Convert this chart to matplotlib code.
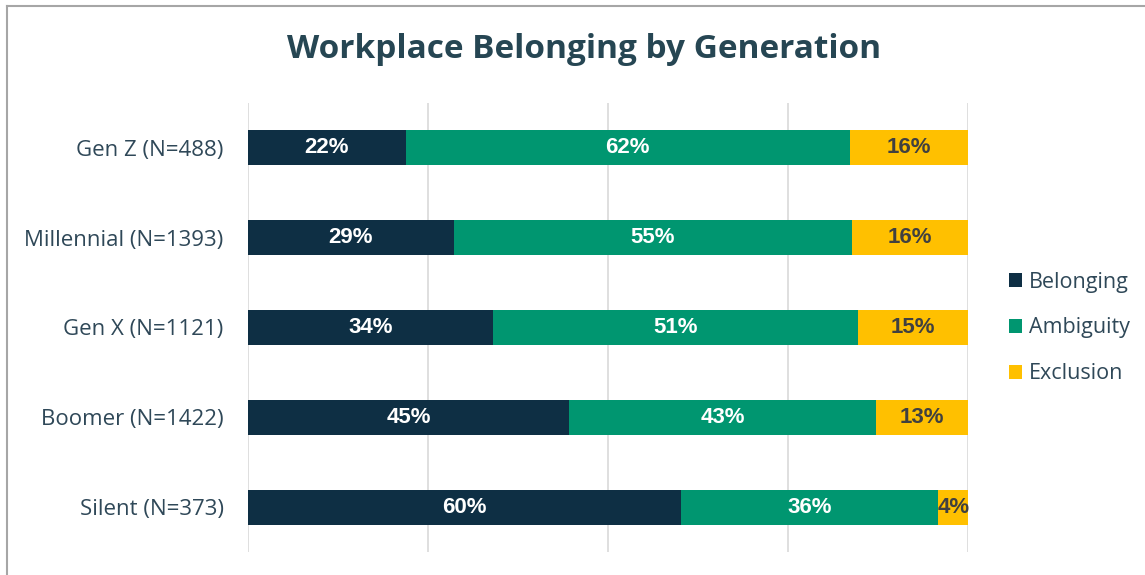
import matplotlib
matplotlib.use("Agg")
import matplotlib.pyplot as plt
from matplotlib.patches import Patch
from matplotlib.lines import Line2D
import numpy as np

generations = ['Gen Z (N=488)', 'Millennial (N=1393)', 'Gen X (N=1121)',
               'Boomer (N=1422)', 'Silent (N=373)']
belonging = [21.9, 28.6, 34.0, 44.6, 60.1]
ambiguity = [61.7, 55.3, 50.7, 42.6, 35.8]
exclusion = [16.4, 16.1, 15.3, 12.8, 4.1]

series = ['Belonging', 'Ambiguity', 'Exclusion']
colors = ['#0E2F44', '#009670', '#FFC000']
label_colors = ['white', 'white', '#404040']
text_color = '#2F4858'

fig = plt.figure(figsize=(11.45, 5.75), dpi=100)
ax = fig.add_axes([248/1145, 1 - 552/575, 720/1145, 449/575])

y = np.arange(len(generations))
left = np.zeros(len(generations))
for name, vals, col, lcol in zip(series, [belonging, ambiguity, exclusion], colors, label_colors):
    vals = np.array(vals)
    ax.barh(y, vals, left=left, height=0.39, color=col, label=name, zorder=2)
    for yi, l, v in zip(y, left, vals):
        ax.text(l + v / 2, yi, '{:.0f}%'.format(v), ha='center', va='center',
                color=lcol, fontsize=16, fontweight='bold',
                family='Liberation Sans', zorder=3)
    left = left + vals

ax.set_xlim(0, 100)
ax.set_ylim(len(generations) - 0.5, -0.5)
ax.set_xticks([0, 25, 50, 75, 100])
ax.xaxis.grid(True, color='#D9D9D9', linewidth=1.2, zorder=0)
ax.set_axisbelow(True)
ax.tick_params(axis='x', bottom=False, labelbottom=False)
ax.tick_params(axis='y', left=False, pad=14)
ax.set_yticks(y)
ax.set_yticklabels(generations, fontsize=16, color=text_color, family='Open Sans')
for s in ax.spines.values():
    s.set_visible(False)

fig.text(584/1145, 1 - 50/575, 'Workplace Belonging by Generation', ha='center', va='center',
         fontsize=24, fontweight='bold', color='#264653', family='Open Sans')

handles = [Patch(facecolor=c, edgecolor='none') for c in colors]
leg = fig.legend(handles, series, loc='center left', bbox_to_anchor=(990/1145, 1 - 328/575),
                 frameon=False, handlelength=0.6, handleheight=0.6,
                 handletextpad=0.3, labelspacing=1.15, prop={'family': 'Open Sans', 'size': 15.5})
for t in leg.get_texts():
    t.set_color(text_color)

# thin outer frame like the original screenshot
fig.add_artist(Line2D([7/1145, 7/1145], [0, 1 - 6/575], transform=fig.transFigure,
                      color='#A6A6A6', linewidth=1.5))
fig.add_artist(Line2D([7/1145, 1], [1 - 6/575, 1 - 6/575], transform=fig.transFigure,
                      color='#A6A6A6', linewidth=1.5))

fig.savefig('out.png', dpi=100)
